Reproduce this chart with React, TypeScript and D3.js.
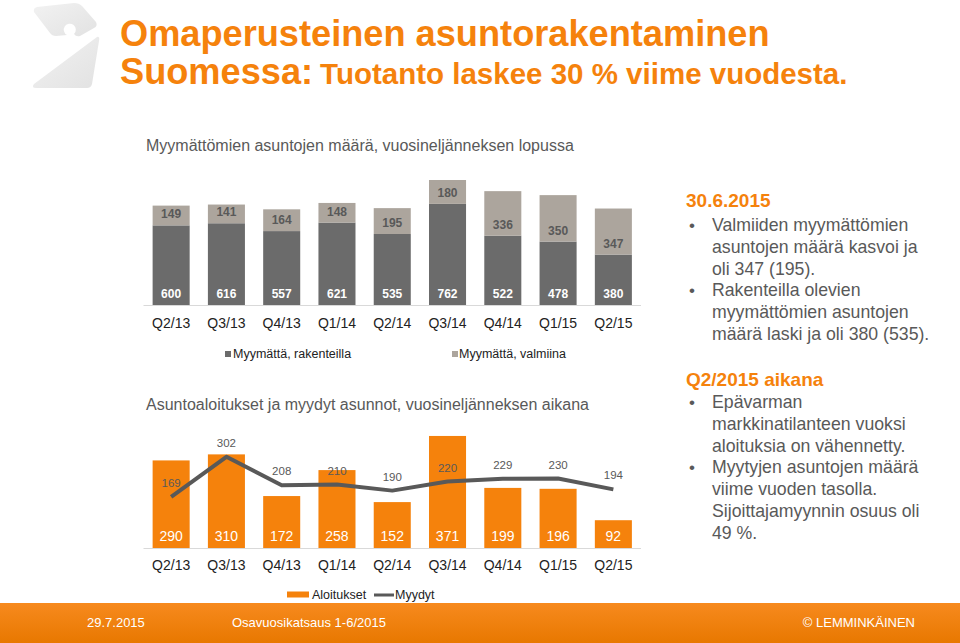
import React from "react";
import * as d3 from "d3";

const categories = ["Q2/13", "Q3/13", "Q4/13", "Q1/14", "Q2/14", "Q3/14", "Q4/14", "Q1/15", "Q2/15"];
const unsoldConstruction = [600, 616, 557, 621, 535, 762, 522, 478, 380];
const unsoldCompleted = [149, 141, 164, 148, 195, 180, 336, 350, 347];
const starts = [290, 310, 172, 258, 152, 371, 199, 196, 92];
const sold = [169, 302, 208, 210, 190, 220, 229, 230, 194];

const titleLine1 = "Omaperusteinen asuntorakentaminen";
const titleLine2a = "Suomessa:";
const titleLine2b = "Tuotanto laskee 30 % viime vuodesta.";
const chart1Title = "Myymättömien asuntojen määrä, vuosineljänneksen lopussa";
const chart2Title = "Asuntoaloitukset ja myydyt asunnot, vuosineljänneksen aikana";
const legend1 = ["Myymättä, rakenteilla", "Myymättä, valmiina"];
const legend2 = ["Aloitukset", "Myydyt"];

const heading1 = "30.6.2015";
const block1 = [
  ["Valmiiden myymättömien", "asuntojen määrä kasvoi ja", "oli 347 (195)."],
  ["Rakenteilla olevien", "myymättömien asuntojen", "määrä laski ja oli 380 (535)."],
];
const heading2 = "Q2/2015 aikana";
const block2 = [
  ["Epävarman", "markkinatilanteen vuoksi", "aloituksia on vähennetty."],
  ["Myytyjen asuntojen määrä", "viime vuoden tasolla.", "Sijoittajamyynnin osuus oli", "49 %."],
];
const footer = ["29.7.2015", "Osavuosikatsaus 1-6/2015", "© LEMMINKÄINEN"];

const ORANGE = "#F5820C";
const DARK = "#6B6B6B";
const LIGHT = "#ACA59D";
const TEXT = "#595959";
const FONT = "'Liberation Sans', Arial, sans-serif";

export default function App() {
  const W = 960, H = 643;
  const x = d3.scaleBand<string>().domain(categories).range([143.5, 641]).paddingInner(0.33).paddingOuter(0.165);

  const base1 = 305;
  const y1 = d3.scaleLinear().domain([0, 1000]).range([base1, base1 - 132.7]);
  const base2 = 548;
  const y2 = d3.scaleLinear().domain([0, 400]).range([base2, base2 - 120.8]);

  const line = d3
    .line<number>()
    .x((_, i) => (x(categories[i]) as number) + x.bandwidth() / 2)
    .y((d) => y2(d));

  const bw = x.bandwidth();

  const renderBlock = (lines: string[][], startY: number) => {
    const out: React.ReactNode[] = [];
    let yy = startY;
    lines.forEach((para, pi) => {
      out.push(
        <text key={`b${startY}-${pi}`} x={689} y={yy} fontSize={17} fill={TEXT}>
          •
        </text>
      );
      para.forEach((ln, li) => {
        out.push(
          <text key={`t${startY}-${pi}-${li}`} x={712} y={yy} fontSize={17.7} fill={TEXT}>
            {ln}
          </text>
        );
        yy += 21.8;
      });
    });
    return out;
  };

  return (
    <svg width={W} height={H} style={{ position: "absolute", left: 0, top: 0 }} fontFamily={FONT}>
      <defs>
        <linearGradient id="foot" x1="0" y1="0" x2="0" y2="1">
          <stop offset="0" stopColor="#F78A1E" />
          <stop offset="1" stopColor="#E87800" />
        </linearGradient>
        <linearGradient id="logo" x1="0" y1="0" x2="1" y2="1">
          <stop offset="0" stopColor="#F2F2F2" />
          <stop offset="1" stopColor="#E2E2E2" />
        </linearGradient>
      </defs>
      <rect x={0} y={0} width={W} height={H} fill="#fff" />

      {/* logo */}
      <g fill="url(#logo)">
        <path d="M34 12 Q33 8 37 7 L74 3 Q79 3 82 6 L96 22 Q98 26 94 28 L80 36 Q76 37 74 34 A6 6 0 1 0 67 35 L56 36 Q52 36 50 33 Z" />
        <path d="M97 37 Q100 36 99 41 L92 84 Q91 88 87 88 L36 88 Q31 88 34 84 Z" />
      </g>

      {/* title */}
      <text x={120} y={46} fontSize={36.2} fontWeight="bold" fill={ORANGE}>
        {titleLine1}
      </text>
      <text x={120} y={84} fontSize={36.2} fontWeight="bold" fill={ORANGE}>
        {titleLine2a}
        <tspan fontSize={29.5} dx={7}>{titleLine2b}</tspan>
      </text>

      {/* chart 1 */}
      <text x={146} y={151} fontSize={16} fill={TEXT}>
        {chart1Title}
      </text>
      {categories.map((c, i) => {
        const bx = x(c) as number;
        const a = unsoldConstruction[i];
        const b = unsoldCompleted[i];
        return (
          <g key={c}>
            <rect x={bx} y={y1(a)} width={bw} height={base1 - y1(a)} fill={DARK} />
            <rect x={bx} y={y1(a + b)} width={bw} height={y1(a) - y1(a + b)} fill={LIGHT} />
            <text x={bx + bw / 2} y={base1 - 7} fontSize={12} fontWeight="bold" fill="#fff" textAnchor="middle">
              {a}
            </text>
            <text x={bx + bw / 2} y={y1(a) - 7} fontSize={12} fontWeight="bold" fill={TEXT} textAnchor="middle">
              {b}
            </text>
            <text x={bx + bw / 2} y={328} fontSize={14} fill="#222" textAnchor="middle">
              {c}
            </text>
          </g>
        );
      })}
      <line x1={143.5} x2={641} y1={base1 + 0.5} y2={base1 + 0.5} stroke="#D9D9D9" />
      <rect x={225} y={351} width={6} height={6} fill={DARK} />
      <text x={233} y={358} fontSize={12.5} fill="#222">{legend1[0]}</text>
      <rect x={452} y={351} width={6} height={6} fill={LIGHT} />
      <text x={459} y={358} fontSize={12.5} fill="#222">{legend1[1]}</text>

      {/* chart 2 */}
      <text x={146} y={410} fontSize={16} fill={TEXT}>
        {chart2Title}
      </text>
      {categories.map((c, i) => {
        const bx = x(c) as number;
        const v = starts[i];
        return (
          <g key={"s" + c}>
            <rect x={bx} y={y2(v)} width={bw} height={base2 - y2(v)} fill={ORANGE} />
            <text x={bx + bw / 2} y={base2 - 7} fontSize={14} fill="#fff" textAnchor="middle">
              {v}
            </text>
            <text x={bx + bw / 2} y={570} fontSize={14} fill="#222" textAnchor="middle">
              {c}
            </text>
          </g>
        );
      })}
      <line x1={143.5} x2={641} y1={base2 + 0.5} y2={base2 + 0.5} stroke="#D9D9D9" />
      <path d={line(sold) || ""} fill="none" stroke={TEXT} strokeWidth={4} strokeLinejoin="round" />
      {sold.map((v, i) => (
        <text
          key={"l" + i}
          x={(x(categories[i]) as number) + bw / 2}
          y={y2(v) - 10}
          fontSize={11.5}
          fill={TEXT}
          textAnchor="middle"
        >
          {v}
        </text>
      ))}
      <rect x={287} y={591.5} width={22} height={6} fill={ORANGE} />
      <text x={312} y={599} fontSize={12.5} fill="#222">{legend2[0]}</text>
      <line x1={374} x2={394} y1={595} y2={595} stroke={TEXT} strokeWidth={3} />
      <text x={395} y={599} fontSize={12.5} fill="#222">{legend2[1]}</text>

      {/* right text */}
      <text x={686} y={207} fontSize={19} fontWeight="bold" fill={ORANGE}>
        {heading1}
      </text>
      {renderBlock(block1, 231)}
      <text x={686} y={386} fontSize={19} fontWeight="bold" fill={ORANGE}>
        {heading2}
      </text>
      {renderBlock(block2, 408)}

      {/* footer */}
      <rect x={0} y={603} width={W} height={40} fill="url(#foot)" />
      <g fontFamily="'Liberation Sans Narrow', 'Arial Narrow', sans-serif" fontSize={13} fill="#fff">
        <text x={87} y={627}>{footer[0]}</text>
        <text x={232} y={627}>{footer[1]}</text>
        <text x={915} y={627} textAnchor="end">{footer[2]}</text>
      </g>
    </svg>
  );
}
